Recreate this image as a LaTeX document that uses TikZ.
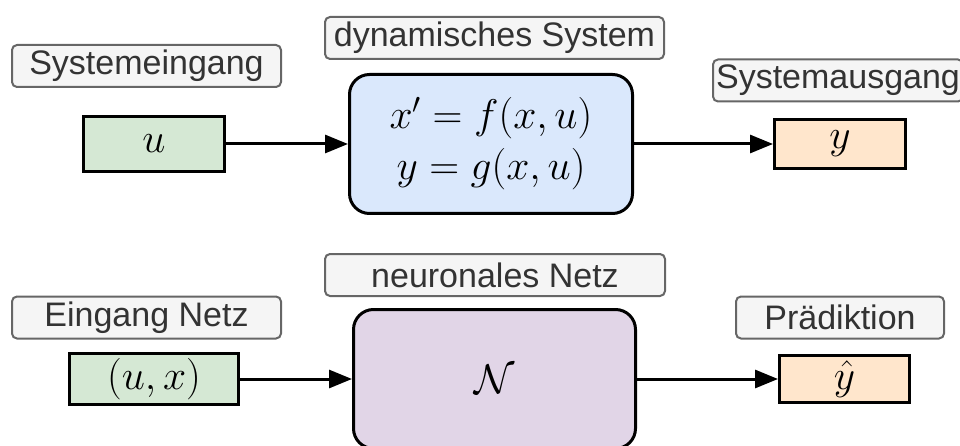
\RequirePackage{fix-cm}
\documentclass[tikz,border=0pt]{standalone}
\usepackage{amsmath,amssymb,xcolor,tikz,fontspec}
\usetikzlibrary{arrows.meta,positioning}
\newfontfamily\lblfont{Liberation Sans}
\definecolor{ingreen}{HTML}{D5E8D4}
\definecolor{outorange}{HTML}{FFE6CC}
\definecolor{sysblue}{HTML}{DAE8FC}
\definecolor{nnpurple}{HTML}{E1D5E7}
\definecolor{lblfill}{HTML}{F5F5F5}
\definecolor{lbldraw}{HTML}{666666}
\definecolor{lbltext}{HTML}{333333}
\tikzset{
  lblbox/.style={draw=lbldraw,fill=lblfill,rounded corners=5pt,line width=2pt,text=lbltext,
    font=\lblfont\fontsize{34}{40}\selectfont,minimum height=42pt,inner sep=0pt},
  blk/.style={draw,line width=3pt,font=\fontsize{41.5}{51}\selectfont,inner sep=0pt,align=center},
  inblk/.style={blk,fill=ingreen},
  outblk/.style={blk,fill=outorange},
  sysblk/.style={blk,rounded corners=20pt,fill=sysblue},
  nnblk/.style={blk,rounded corners=20pt,fill=nnpurple},
  arr/.style={-{Triangle[length=23pt,width=18pt]},line width=3pt}
}
\begin{document}
\begin{tikzpicture}[x=1pt,y=-1pt]
  \clip (0,0) rectangle (960,446);
  % dynamisches System
  \node[lblbox,minimum width=269pt] (inlbl) at (146.5,66) {Systemeingang};
  \node[inblk,minimum width=141pt,minimum height=55pt] (u) at (154,144) {$u$};
  \node[lblbox,minimum width=339pt] (syslbl) at (494.5,38) {dynamisches System};
  \node[sysblk,minimum width=283pt,minimum height=139pt] (sys) at (491,144) {$x' = f(x,u)$\\$y = g(x,u)$};
  \node[lblbox,minimum width=250pt] (outlbl) at (838,80.5) {Systemausgang};
  \node[outblk,minimum width=131pt,minimum height=49pt] (y) at (840,144) {$y$};

  \draw[arr] (u) -- (sys);
  \draw[arr] (sys) -- (y);

  % neuronales Netz
  \node[lblbox,minimum width=340pt] (nnlbl) at (495,275) {neuronales Netz};
  \node[lblbox,minimum width=269pt] (nninlbl) at (146.5,317.5) {Eingang Netz};
  \node[inblk,minimum width=169pt,minimum height=51pt] (ux) at (154,379) {$(u,x)$};
  \node[nnblk,minimum width=282pt,minimum height=139pt] (nn) at (494.5,379) {$\mathcal{N}$};
  \node[lblbox,minimum width=208pt] (predlbl) at (840,317.5) {Prädiktion};
  \node[outblk,minimum width=130pt,minimum height=47pt] (yhat) at (844.5,379) {$\hat{y}$};

  \draw[arr] (ux) -- (nn);
  \draw[arr] (nn) -- (yhat);
\end{tikzpicture}
\end{document}
